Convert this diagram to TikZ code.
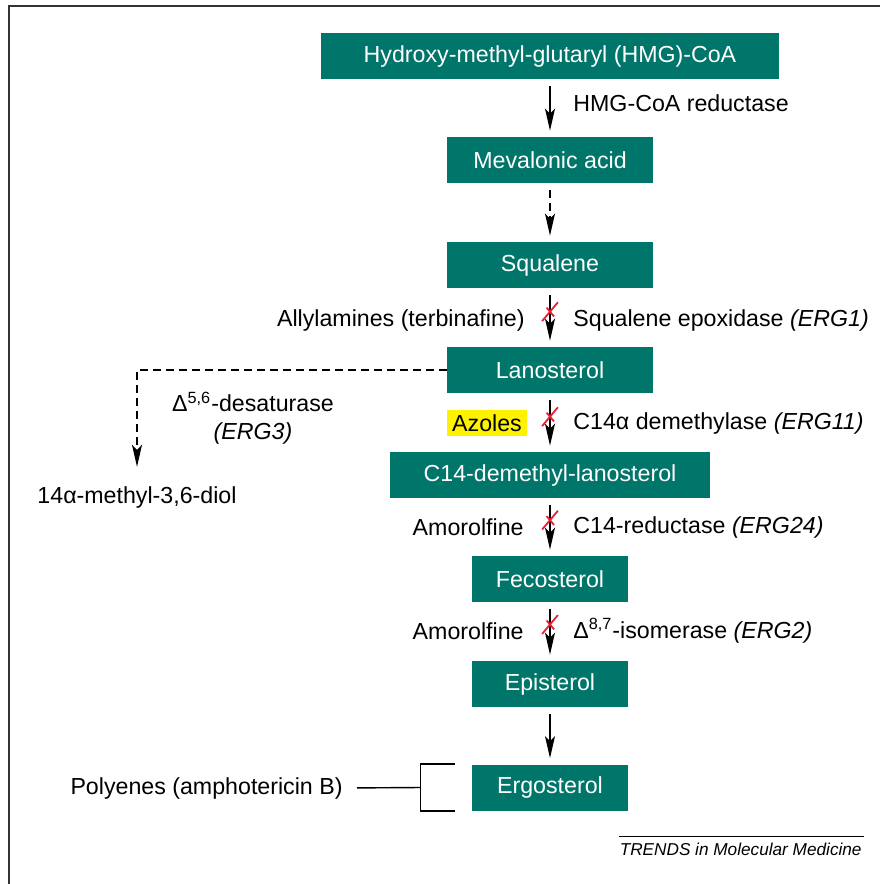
\documentclass[tikz,border=0pt]{standalone}
\usepackage{fontspec}
\setmainfont{Liberation Sans}
\usetikzlibrary{arrows.meta,shapes.misc}
\definecolor{boxteal}{RGB}{0,117,106}
\definecolor{xred}{RGB}{232,32,52}
\tikzset{
  stage/.style = {rectangle, fill=boxteal, text=white, minimum width=#1,
                  minimum height=23pt, inner sep=0pt},
  stage/.default = 103pt,
  lbl/.style = {inner sep=0pt},
  flow/.style = {-{Stealth[length=11pt,width=5pt,inset=2.5pt]}, line width=0.7pt,
                 shorten <=3.5pt, shorten >=3pt},
  blocked/.style = {cross out, draw=xred, line width=0.9pt, minimum width=7pt,
                    minimum height=8.5pt, inner sep=0pt}
}
\newcommand\mainsize{\fontsize{11.6pt}{13.9pt}\selectfont}

\begin{document}
\begin{tikzpicture}[x=0.5pt, y=-0.5pt, font=\mainsize]
	\def\cx{550}
	\useasboundingbox (0,0) rectangle (880,884);

	% Frame
	\draw[line width=1pt, black!80] (9,884) -- (9,6) -- (880,6);

	% Stages
	\node[stage=229pt] (hmg)    at (\cx,56)    {Hydroxy-methyl-glutaryl (HMG)-CoA};
	\node[stage]       (meva)   at (\cx,160)   {Mevalonic acid};
	\node[stage]       (squa)   at (\cx,265)   {Squalene};
	\node[stage]       (lano)   at (\cx,370)   {Lanosterol};
	\node[stage=160pt] (demeth) at (\cx,475)   {C14-demethyl-lanosterol};
	\node[stage=78pt]  (feco)   at (\cx,579)   {Fecosterol};
	\node[stage=78pt]  (epis)   at (\cx,684)   {Episterol};
	\node[stage=78pt]  (ergo)   at (\cx,787.5) {Ergosterol};

	% Main pathway
	\draw[flow] (hmg) -- (meva);
	\draw[flow, dash pattern=on 4pt off 2.5pt] (meva) -- (squa);
	\draw[flow] (squa) -- node[blocked, pos=0.4] (xerg1) {} (lano);
	\draw[flow] (lano) -- node[blocked, pos=0.4] (xerg11) {} (demeth);
	\draw[flow] (demeth) -- node[blocked, pos=0.38] (xerg24) {} (feco);
	\draw[flow] (feco) -- node[blocked, pos=0.38] (xerg2) {} (epis);
	\draw[flow] (epis) -- (ergo);

	% Enzymes and inhibitors
	\node[lbl, anchor=west] (hmgr)  at (573,103) {HMG-CoA reductase};
	\node[lbl, anchor=east] (allyl) at (525,320) {Allylamines (terbinafine)};
	\node[lbl, anchor=west] (erg1)  at (573,320) {Squalene epoxidase \textit{(ERG1)}};
	\node[fill=yellow, minimum width=40pt, minimum height=13pt, inner sep=0pt] (azol) at (487,423) {Azoles};
	\node[lbl, anchor=west] (erg11) at (573,423) {C14α demethylase \textit{(ERG11)}};
	\node[lbl, anchor=east] (amor1) at (524,527) {Amorolfine};
	\node[lbl, anchor=west] (erg24) at (573,527) {C14-reductase \textit{(ERG24)}};
	\node[lbl, anchor=east] (amor2) at (524,631) {Amorolfine};
	\node[lbl, anchor=west] (erg2)  at (573,631) {Δ\textsuperscript{8,7}-isomerase \textit{(ERG2)}};

	% Side branch (ERG3)
	\node[lbl] (diol) at (137,497) {14α-methyl-3,6-diol};
	\draw[flow, dash pattern=on 4pt off 2.5pt, shorten <=0pt, shorten >=9.5pt] (lano.west) -| (diol.north);
	\node[lbl, align=center] (desat) at (253,418) {Δ\textsuperscript{5,6}-desaturase\\\textit{(ERG3)}};

	% Polyenes bracket
	\node[lbl, anchor=east] (poly) at (343,788) {Polyenes (amphotericin B)};
	\coordinate (brt) at ([xshift=-8.5pt]ergo.north west);
	\coordinate (brb) at ([xshift=-8.5pt]ergo.south west);
	\coordinate (brm) at ([xshift=-25.5pt]ergo.west);
	\draw[line width=0.7pt] (brt) -| (brm) |- (brb);
	\draw[line width=0.7pt, shorten <=7pt] (poly.east) -- (brm);

	% Source line
	\node[lbl, anchor=base east, font=\fontsize{8.6pt}{10pt}\selectfont\itshape] (trends) at (862,855) {TRENDS in Molecular Medicine};
	\draw[line width=0.6pt] ([yshift=3pt]trends.north west) -- ([xshift=1pt,yshift=3pt]trends.north east);
\end{tikzpicture}
\end{document}
